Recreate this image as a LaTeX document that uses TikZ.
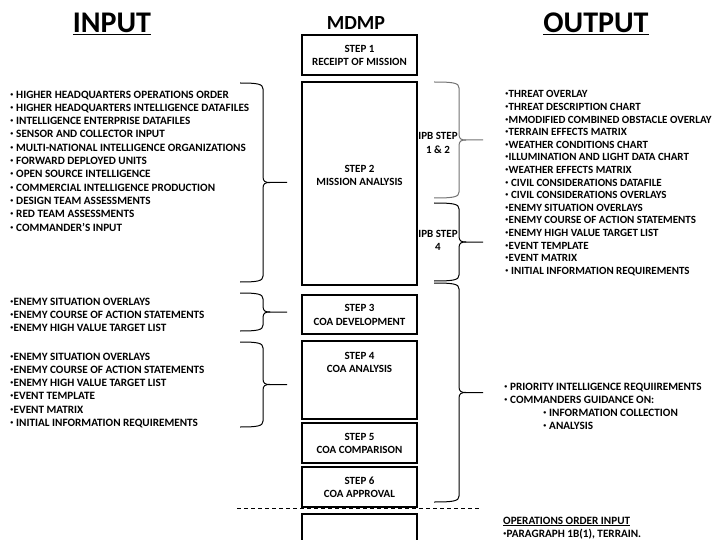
\documentclass[tikz,border=0pt]{standalone}
\usepackage{fontspec}
\setmainfont{Carlito}
\usepackage{tikz}
\usetikzlibrary{positioning}
\newcommand{\bu}{{\fontsize{13}{13}\selectfont·}}
% curly bracket: left x, spine x, top y, bottom y, tip x
\newcommand{\curly}[6][brc]{%
  \draw[#1] (#2,#4) .. controls (#3-5,#4) and (#3,#4+1) .. (#3,#4+6)
    -- (#3,{(#4+#5)/2-6}) .. controls (#3,{(#4+#5)/2-1}) and (#3+2,{(#4+#5)/2}) .. (#3+7,{(#4+#5)/2})
    -- (#6,{(#4+#5)/2});
  \draw[#1] (#2,#5) .. controls (#3-5,#5) and (#3,#5-1) .. (#3,#5-6)
    -- (#3,{(#4+#5)/2+6}) .. controls (#3,{(#4+#5)/2+1}) and (#3+2,{(#4+#5)/2}) .. (#3+7,{(#4+#5)/2});
}
\tikzset{
    stepbox/.style={
        rectangle,
        draw=black,
        line width=2.4pt,
        minimum width=115pt,
        inner sep=0pt,
        align=center,
        font=\bfseries\fontsize{11}{13.5}\selectfont
    },
    steptext/.style={
        inner sep=0pt,
        align=center,
        font=\bfseries\fontsize{11}{13.5}\selectfont
    },
    list/.style={
        inner sep=0pt,
        align=left,
        anchor=north west,
        font=\bfseries\fontsize{11.2}{13.3}\selectfont
    },
    title/.style={
        inner sep=0pt,
        anchor=base,
        font=\bfseries\fontsize{30}{32}\selectfont
    },
    brc/.style={line width=1pt,black},
    gbrc/.style={line width=1pt,black!55}
}
\begin{document}
\begin{tikzpicture}[x=1pt,y=-1pt]
\useasboundingbox[fill=white] (0,0) rectangle (720,540);
\clip (0,0) rectangle (720,540);
% titles
\node[title] (input) at (112,33) {\underline{INPUT}};
\node[title] (output) at (596,33) {\underline{OUTPUT}};
\node[title,font=\bfseries\fontsize{20}{22}\selectfont] (mdmp) at (356,30) {MDMP};
% mdmp steps
\node[stepbox,anchor=north,minimum height=40pt] (s1) at (359.5,34) {STEP 1\\RECEIPT OF MISSION};
\node[stepbox,anchor=north,minimum height=203pt] (s2) at (359.5,81) {};
\node[steptext,below=84pt of s2.north] (t2) {STEP 2\\MISSION ANALYSIS};
\node[stepbox,anchor=north,minimum height=39pt] (s3) at (359.5,294) {STEP 3\\COA DEVELOPMENT};
\node[stepbox,anchor=north,minimum height=78pt] (s4) at (359.5,340) {};
\node[steptext,below=12pt of s4.north] (t4) {STEP 4\\COA ANALYSIS};
\node[stepbox,anchor=north,minimum height=40pt] (s5) at (359.5,422) {STEP 5\\COA COMPARISON};
\node[stepbox,anchor=north,minimum height=40pt] (s6) at (359.5,466) {STEP 6\\COA APPROVAL};
\node[stepbox,anchor=north,minimum height=50pt] (s7) at (359.5,513) {};
\draw[dashed,line width=0.8pt,dash pattern=on 4pt off 3pt] (237,508) -- (480,508);
% inputs
\node[list] (in1) at (10,90.5) {\bu{} HIGHER HEADQUARTERS OPERATIONS ORDER\\
\bu{} HIGHER HEADQUARTERS INTELLIGENCE DATAFILES\\
\bu{} INTELLIGENCE ENTERPRISE DATAFILES\\
\bu{} SENSOR AND COLLECTOR INPUT\\
\bu{} MULTI-NATIONAL INTELLIGENCE ORGANIZATIONS\\
\bu{} FORWARD DEPLOYED UNITS\\
\bu{} OPEN SOURCE INTELLIGENCE\\
\bu{} COMMERCIAL INTELLIGENCE PRODUCTION\\
\bu{} DESIGN TEAM ASSESSMENTS\\
\bu{} RED TEAM ASSESSMENTS\\
\bu{} COMMANDER’S INPUT};
\node[list] (in3) at (10,297.5) {\bu ENEMY SITUATION OVERLAYS\\
\bu ENEMY COURSE OF ACTION STATEMENTS\\
\bu ENEMY HIGH VALUE TARGET LIST};
\node[list] (in4) at (10,352.5) {\bu ENEMY SITUATION OVERLAYS\\
\bu ENEMY COURSE OF ACTION STATEMENTS\\
\bu ENEMY HIGH VALUE TARGET LIST\\
\bu EVENT TEMPLATE\\
\bu EVENT MATRIX\\
\bu{} INITIAL INFORMATION REQUIREMENTS};
\curly{240}{263}{83}{282}{287}
\curly{240}{263}{293}{331}{287}
\curly{240}{263}{342}{427}{287}
% outputs
\node[steptext] (ipb1) at (438,143) {IPB STEP\\1 \& 2};
\node[steptext] (ipb4) at (438,240.5) {IPB STEP\\4};
\curly[gbrc]{434}{459}{82}{198}{483}
\curly{434}{459}{203}{281}{483}
\curly{434}{459}{283}{502}{483}
\node[list,font=\bfseries\fontsize{11}{12.6}\selectfont] (out2) at (505,90.5) {\bu THREAT OVERLAY\\
\bu THREAT DESCRIPTION CHART\\
\bu MMODIFIED COMBINED OBSTACLE OVERLAY\\
\bu TERRAIN EFFECTS MATRIX\\
\bu WEATHER CONDITIONS CHART\\
\bu ILLUMINATION AND LIGHT DATA CHART\\
\bu WEATHER EFFECTS MATRIX\\
\bu{} CIVIL CONSIDERATIONS DATAFILE\\
\bu{} CIVIL CONSIDERATIONS OVERLAYS\\
\bu ENEMY SITUATION OVERLAYS\\
\bu ENEMY COURSE OF ACTION STATEMENTS\\
\bu ENEMY HIGH VALUE TARGET LIST\\
\bu EVENT TEMPLATE\\
\bu EVENT MATRIX\\
\bu{} INITIAL INFORMATION REQUIREMENTS};
\node[list] (out3) at (504,382.5) {\bu{} PRIORITY INTELLIGENCE REQUIIREMENTS\\
\bu{} COMMANDERS GUIDANCE ON:\\
\hspace*{39pt}\bu{} INFORMATION COLLECTION\\
\hspace*{39pt}\bu{} ANALYSIS};
\node[list] (opord) at (503,516.5) {\underline{OPERATIONS ORDER INPUT}\\
\bu PARAGRAPH 1B(1), TERRAIN.};
\end{tikzpicture}
\end{document}
